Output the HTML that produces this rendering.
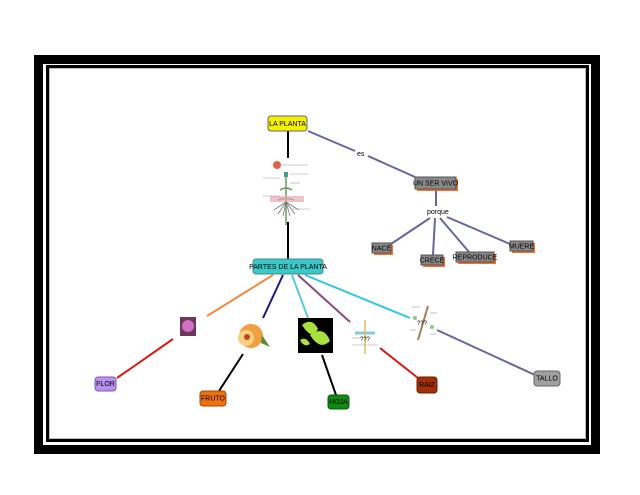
<!DOCTYPE html>
<html><head><meta charset="utf-8"><style>
html,body{margin:0;padding:0;background:#fff;width:640px;height:495px;overflow:hidden}
svg{display:block}
text{font-family:"Liberation Sans",sans-serif;font-size:7px}
</style></head><body>
<svg width="640" height="495" viewBox="0 0 640 495" xmlns="http://www.w3.org/2000/svg">
<rect x="38.5" y="59.5" width="557" height="390" fill="none" stroke="#000" stroke-width="9"/>
<rect x="47.5" y="66.5" width="540" height="374" fill="none" stroke="#000" stroke-width="3"/>
<rect x="49.5" y="68.5" width="536" height="370" fill="none" stroke="#bbb" stroke-width="1"/>
<g stroke-width="2" fill="none">
<line x1="288" y1="131" x2="288" y2="158" stroke="#000"/>
<line x1="288" y1="222" x2="288" y2="259" stroke="#000"/>
<line x1="308" y1="131" x2="355" y2="151" stroke="#66669a"/>
<line x1="368" y1="156" x2="415" y2="177" stroke="#66669a"/>
<line x1="436" y1="189" x2="436" y2="206" stroke="#66669a"/>
<line x1="430" y1="218" x2="391" y2="244" stroke="#66669a"/>
<line x1="435" y1="218" x2="433" y2="255" stroke="#66669a"/>
<line x1="440" y1="218" x2="469" y2="252" stroke="#66669a"/>
<line x1="447" y1="217" x2="510" y2="244" stroke="#66669a"/>
<line x1="273" y1="275" x2="207" y2="316" stroke="#f08a3c"/>
<line x1="283" y1="275" x2="263" y2="318" stroke="#1a1a7a"/>
<line x1="292" y1="275" x2="308" y2="318" stroke="#5cc8d8"/>
<line x1="298" y1="275" x2="350" y2="322" stroke="#8a4a7a"/>
<line x1="305" y1="275" x2="410" y2="318" stroke="#2ec8e0"/>
<line x1="173" y1="339" x2="117" y2="378" stroke="#d81818"/>
<line x1="243" y1="354" x2="219" y2="391" stroke="#000"/>
<line x1="322" y1="355" x2="336" y2="395" stroke="#000"/>
<line x1="380" y1="348" x2="418" y2="378" stroke="#d81818"/>
<line x1="437" y1="330" x2="535" y2="375" stroke="#66669a"/>
</g>
<text x="357" y="156">es</text>
<text x="427" y="214">porque</text>
<circle cx="277" cy="165" r="4" fill="#e06050"/>
<path d="M286 225 V172 M280 190 q6 -4 12 0 M278 200 q8 -3 16 0" stroke="#6a9a5a" stroke-width="1.5" fill="none"/>
<rect x="284" y="172" width="4" height="5" fill="#4a9a8a"/>
<rect x="270" y="196" width="34" height="6" fill="#e8a8b0" opacity=".7"/>
<path d="M286 202 l-8 12 M286 202 l-3 14 M286 202 l4 14 M286 202 l9 12 M286 202 l-12 8 M286 202 l13 8" stroke="#777" stroke-width=".8"/>
<g stroke="#999" stroke-width=".6"><line x1="281" y1="165" x2="308" y2="165"/><line x1="290" y1="174" x2="308" y2="174"/><line x1="263" y1="178" x2="280" y2="178"/><line x1="290" y1="183" x2="300" y2="183"/><line x1="262" y1="196" x2="280" y2="196"/><line x1="292" y1="209" x2="310" y2="209"/></g>
<rect x="180" y="317" width="16" height="19" fill="#6a3a5a"/><circle cx="188" cy="326" r="6" fill="#d070c0"/>
<circle cx="251" cy="336" r="12" fill="#f0a040"/><circle cx="246" cy="338" r="8" fill="#f8d080"/><circle cx="247" cy="337" r="3" fill="#c04020"/><path d="M262 335 l8 12 l-9 -4z" fill="#5a8a3a"/>
<rect x="298" y="318" width="35" height="35" fill="#000"/><path d="M302 325 q10 -8 16 4 q-6 12 -16 -4z M310 335 q14 -10 20 6 q-10 10 -20 -6z M300 340 q6 -4 10 4 q-6 4 -10 -4z" fill="#a8e040"/>
<path d="M355 333 h20" stroke="#8ac8e0" stroke-width="3"/><line x1="365" y1="320" x2="365" y2="354" stroke="#d8c060" stroke-width="1.5"/><text x="360" y="341" style="font-size:6px">???</text><g stroke="#999" stroke-width=".6"><line x1="352" y1="345" x2="378" y2="345"/><line x1="352" y1="338" x2="360" y2="338"/></g>
<line x1="428" y1="306" x2="418" y2="340" stroke="#a08060" stroke-width="2"/><circle cx="415" cy="318" r="2" fill="#8c8"/><circle cx="432" cy="327" r="2" fill="#8c8"/><text x="417" y="325" style="font-size:6px">???</text><g stroke="#999" stroke-width=".6"><line x1="412" y1="307" x2="420" y2="307"/><line x1="430" y1="313" x2="437" y2="313"/><line x1="410" y1="330" x2="416" y2="330"/><line x1="430" y1="334" x2="436" y2="334"/></g>
<g stroke-width="1">
<rect x="268" y="116" width="39" height="15" rx="3" fill="#f4f000" stroke="#666"/>
<rect x="253" y="259" width="70" height="15" rx="3" fill="#3ac8c8" stroke="#4a8a8a"/>
<rect x="417" y="179" width="41" height="12" fill="#f07030"/><rect x="415" y="177" width="41" height="12" fill="#888" stroke="#555"/>
<rect x="374" y="245" width="19" height="10" fill="#f07030"/><rect x="372" y="243" width="19" height="10" fill="#888" stroke="#555"/>
<rect x="423" y="257" width="22" height="10" fill="#f07030"/><rect x="421" y="255" width="22" height="10" fill="#888" stroke="#555"/>
<rect x="458" y="254" width="38" height="10" fill="#f07030"/><rect x="456" y="252" width="38" height="10" fill="#888" stroke="#555"/>
<rect x="512" y="243" width="23" height="10" fill="#f07030"/><rect x="510" y="241" width="23" height="10" fill="#888" stroke="#555"/>
<rect x="95" y="377" width="21" height="14" rx="3" fill="#b890f0" stroke="#7a5ab0"/>
<rect x="200" y="391" width="26" height="15" rx="3" fill="#f07010" stroke="#a04a00"/>
<rect x="328" y="395" width="21" height="14" rx="3" fill="#108a10" stroke="#0a5a0a"/>
<rect x="417" y="377" width="20" height="16" rx="3" fill="#a03008" stroke="#602000"/>
<rect x="534" y="371" width="26" height="15" rx="3" fill="#a0a0a0" stroke="#666"/>
</g>
<g text-anchor="middle" style="font-size:5.8px">
<text x="287.5" y="126">LA PLANTA</text>
<text x="288" y="269">PARTES DE LA PLANTA</text>
<text x="435.5" y="185.5">UN SER VIVO</text>
<text x="381.5" y="250.5">NACE</text>
<text x="432" y="262.5">CRECE</text>
<text x="475" y="259.5">REPRODUCE</text>
<text x="521.5" y="248.5">MUERE</text>
<text x="105.5" y="386">FLOR</text>
<text x="213" y="400.5">FRUTO</text>
<text x="338.5" y="404">HOJA</text>
<text x="427" y="387">RAIZ</text>
<text x="547" y="380.5">TALLO</text>
</g>
</svg>
</body></html>
